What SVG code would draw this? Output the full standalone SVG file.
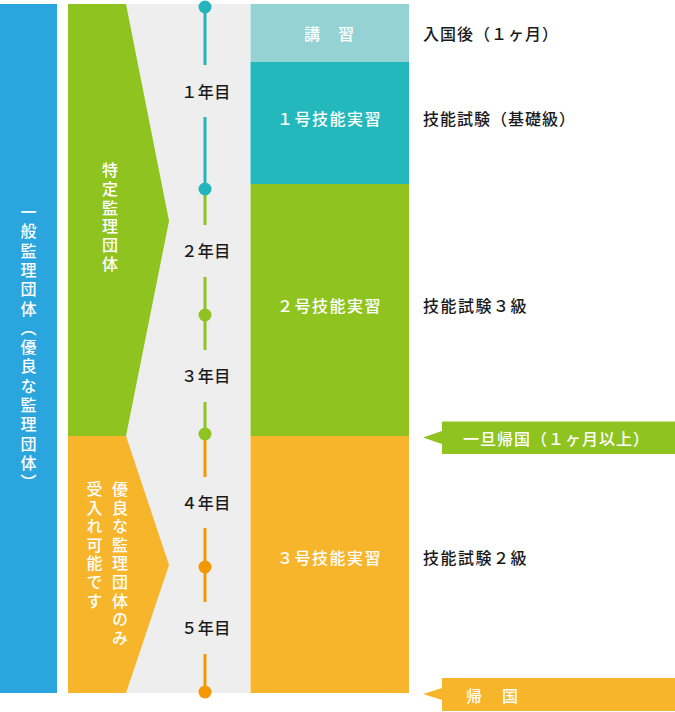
<svg xmlns="http://www.w3.org/2000/svg" width="675" height="712" viewBox="0 0 675 712">
<style>
text{font-family:"Noto Sans CJK JP","Noto Sans",sans-serif;font-size:16px;font-weight:500}
.w{fill:#ffffff}
.k{fill:#1a1a1a}
.v{writing-mode:vertical-rl}
.c{text-anchor:middle;dominant-baseline:central}
.s{dominant-baseline:central}
.lc{stroke:#22b5bd;stroke-width:3}
.lg{stroke:#8fc31f;stroke-width:3}
.lo{stroke:#f39800;stroke-width:3}
</style>
<rect width="675" height="712" fill="#ffffff"/>
<g id="general">
<rect x="0" y="4" width="57" height="689" fill="#2aa5de"/>
<text class="w v" x="28.5" y="204" style="letter-spacing:3.3px">一般監理団体（優良な監理団体）</text>
</g>
<g id="band">
<rect x="68" y="4" width="182" height="689" fill="#eeeeee"/>
</g>
<g id="specific">
<polygon points="68,4 126,4 169,221 126,436 68,436" fill="#8fc31f"/>
<text class="w v" x="110" y="162" style="letter-spacing:2.8px">特定監理団体</text>
</g>
<g id="excellent">
<polygon points="68,436 126,436 169,565 126,693 68,693" fill="#f7b52c"/>
<text class="w v" x="120" y="481" style="letter-spacing:2.6px">優良な監理団体のみ</text>
<text class="w v" x="94.5" y="481" style="letter-spacing:2.6px">受入れ可能です</text>
</g>
<g id="connectors">
<line class="lc" x1="205" y1="7" x2="205" y2="65"/>
<line class="lc" x1="205" y1="117" x2="205" y2="189"/>
<line class="lg" x1="205" y1="189" x2="205" y2="225"/>
<line class="lg" x1="205" y1="277" x2="205" y2="350"/>
<line class="lg" x1="205" y1="402" x2="205" y2="434"/>
<line class="lo" x1="205" y1="434" x2="205" y2="477"/>
<line class="lo" x1="205" y1="528" x2="205" y2="602"/>
<line class="lo" x1="205" y1="654" x2="205" y2="692"/>
<circle cx="205" cy="7" r="6.5" fill="#22b5bd"/>
<circle cx="205" cy="189" r="6.5" fill="#22b5bd"/>
<circle cx="205" cy="315" r="6.5" fill="#8fc31f"/>
<circle cx="205" cy="434" r="6.5" fill="#8fc31f"/>
<circle cx="205" cy="567" r="6.5" fill="#f39800"/>
<circle cx="205" cy="692" r="6.5" fill="#f39800"/>
</g>
<g id="years">
<text class="k c" x="206" y="91" style="letter-spacing:0.5px">１年目</text>
<text class="k c" x="206" y="250" style="letter-spacing:0.5px">２年目</text>
<text class="k c" x="206" y="375" style="letter-spacing:0.5px">３年目</text>
<text class="k c" x="206" y="502" style="letter-spacing:0.5px">４年目</text>
<text class="k c" x="206" y="627" style="letter-spacing:0.5px">５年目</text>
</g>
<g id="lecture">
<rect x="250.5" y="4" width="158.5" height="58" fill="#94d2d4"/>
<text class="w c" x="329.5" y="33" style="letter-spacing:1px">講　習</text>
</g>
<g id="stage1">
<rect x="250.5" y="62" width="158.5" height="122" fill="#22b8bc"/>
<text class="w c" x="329.5" y="118" style="letter-spacing:1.5px">１号技能実習</text>
</g>
<g id="stage2">
<rect x="250.5" y="184" width="158.5" height="252" fill="#8fc31f"/>
<text class="w c" x="329.5" y="305" style="letter-spacing:1.5px">２号技能実習</text>
</g>
<g id="stage3">
<rect x="250.5" y="436" width="158.5" height="257" fill="#f7b52c"/>
<text class="w c" x="329.5" y="557" style="letter-spacing:1.5px">３号技能実習</text>
</g>
<g id="notes">
<text class="k s" x="423" y="33" style="letter-spacing:1px">入国後（１ヶ月）</text>
<text class="k s" x="423" y="118" style="letter-spacing:1px">技能試験（基礎級）</text>
<text class="k s" x="423" y="305" style="letter-spacing:1.5px">技能試験３級</text>
<text class="k s" x="423" y="557" style="letter-spacing:1.5px">技能試験２級</text>
</g>
<g id="return-temp">
<polygon points="423,437.5 442,431 442,444" fill="#8fc31f"/>
<rect x="442" y="421.5" width="233" height="32.5" fill="#8fc31f"/>
<text class="w s" x="463" y="438" style="letter-spacing:1px">一旦帰国（１ヶ月以上）</text>
</g>
<g id="return">
<polygon points="423,694 442,688 442,700" fill="#f7b52c"/>
<rect x="442" y="678" width="233" height="33" fill="#f7b52c"/>
<text class="w s" x="466" y="694.5" style="letter-spacing:2px">帰　国</text>
</g>
</svg>
